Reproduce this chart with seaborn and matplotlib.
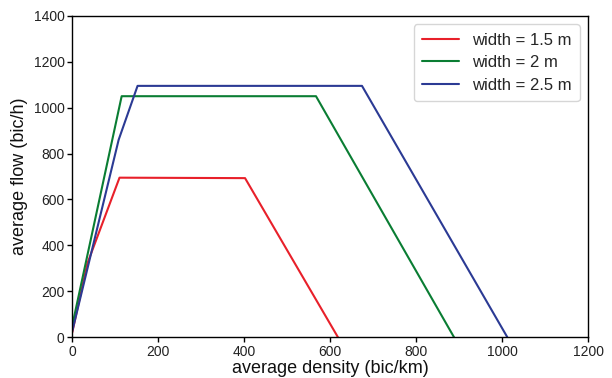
import matplotlib
matplotlib.use("Agg")
import matplotlib.pyplot as plt
import seaborn as sns
import pandas as pd

# data
red_density = [0, 35, 110, 402, 618]
red_flow = [20, 320, 695, 693, 0]
green_density = [0, 115, 567, 888]
green_flow = [50, 1050, 1050, 0]
blue_density = [0, 108, 152, 674, 1012]
blue_flow = [25, 860, 1095, 1095, 0]
labels = ["width = 1.5 m", "width = 2 m", "width = 2.5 m"]
colors = ["#e8202a", "#0a7d33", "#2b3a94"]

rows = []
for lab, xs, ys in zip(labels,
                       [red_density, green_density, blue_density],
                       [red_flow, green_flow, blue_flow]):
    for i, (x, y) in enumerate(zip(xs, ys)):
        rows.append({"density": x, "flow": y, "width": lab, "order": i})
df = pd.DataFrame(rows)

sns.set_style("ticks")
plt.rcParams['font.family'] = ['Liberation Sans', 'DejaVu Sans']
fig = plt.figure(figsize=(6.12, 3.78), dpi=100)
ax = fig.add_axes([0.118, 0.108, 0.843, 0.85])
sns.lineplot(data=df, x="density", y="flow", hue="width", palette=colors,
             sort=False, estimator=None, units="width", lw=1.5, ax=ax)
ax.set_xlim(0, 1200)
ax.set_ylim(0, 1400)
ax.set_xticks(range(0, 1201, 200))
ax.set_yticks(range(0, 1401, 200))
ax.tick_params(labelsize=10, direction="out", length=3.5, width=1, color="black",
               pad=2, labelcolor="#222222")
for s in ax.spines.values():
    s.set_color("black")
    s.set_linewidth(1.0)
ax.set_xlabel("average density (bic/km)", fontsize=13, labelpad=1, color="#111111")
ax.set_ylabel("average flow (bic/h)", fontsize=13, labelpad=4, color="#111111")
leg = ax.legend(loc="upper right", fontsize=12, handlelength=2.2, frameon=True,
                borderpad=0.5, labelspacing=0.45)
leg.set_title(None)
fig.savefig("out.png", dpi=100)
